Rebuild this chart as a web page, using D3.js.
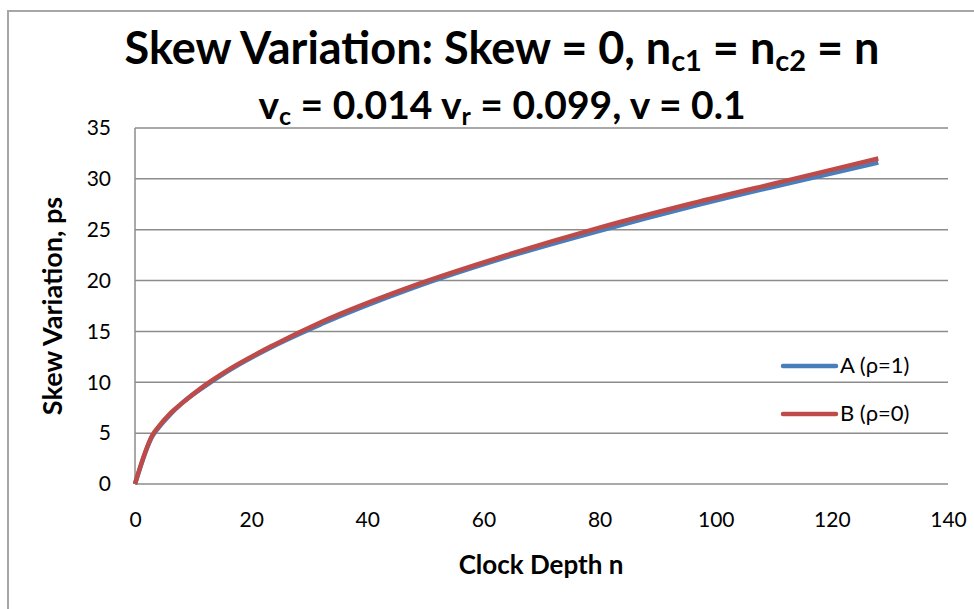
<!DOCTYPE html>
<html>
<head>
<meta charset="utf-8">
<script src="https://cdn.jsdelivr.net/npm/d3@7"></script>
<style>
  body { margin: 0; background: #fff; }
  text { font-family: Lato, "Open Sans", sans-serif; fill: #000; }
</style>
</head>
<body>
<div id="chart"></div>
<script>
// clock depth values (x) and skew variation in ps for each series
var depth = [0, 3, 4, 6, 8, 12, 16, 24, 32, 48, 64, 80, 96, 112, 128];
var seriesA = [0, 4.7, 5.5, 6.8, 7.9, 9.6, 11.1, 13.6, 15.7, 19.3, 22.3, 24.9, 27.3, 29.5, 31.6];
var seriesB = [0, 4.8, 5.6, 6.9, 7.9, 9.7, 11.2, 13.7, 15.9, 19.5, 22.5, 25.2, 27.6, 29.8, 32.0];
var seriesNames = ["A (\u03c1=1)", "B (\u03c1=0)"];
var seriesColors = ["#4a7ebb", "#be4b48"];
var xTicks = [0, 20, 40, 60, 80, 100, 120, 140];
var yTicks = [0, 5, 10, 15, 20, 25, 30, 35];

var width = 974, height = 609;

var svg = d3.select("#chart")
	.append("svg")
	.attr("width", width)
	.attr("height", height);

// outer chart frame (only top and left edges visible)
svg.append("rect")
	.attr("x", 8).attr("y", 11)
	.attr("width", 1000).attr("height", 700)
	.attr("fill", "#fff")
	.attr("stroke", "#a6a6a6")
	.attr("stroke-width", 2);

var x = d3.scaleLinear().domain([0, 140]).range([135, 948]);
var y = d3.scaleLinear().domain([0, 35]).range([484, 128]);

// horizontal gridlines
svg.append("g")
	.selectAll("line")
	.data(yTicks)
	.enter().append("line")
	.attr("x1", x(0)).attr("x2", x(140))
	.attr("y1", function(d) { return y(d); })
	.attr("y2", function(d) { return y(d); })
	.attr("stroke", "#8c8c8c")
	.attr("stroke-width", 1.5);

// left axis line
svg.append("line")
	.attr("x1", x(0)).attr("x2", x(0))
	.attr("y1", y(0)).attr("y2", y(35))
	.attr("stroke", "#8c8c8c")
	.attr("stroke-width", 1.5);

// tick labels
var yAxis = d3.axisLeft(y).tickValues(yTicks).tickSize(0).tickPadding(24);
var gy = svg.append("g").attr("transform", "translate(" + x(0) + ",0)").call(yAxis);
gy.select(".domain").remove();
gy.selectAll("text").style("font-size", "21px").attr("fill", "#000");

var xAxis = d3.axisBottom(x).tickValues(xTicks).tickSize(0).tickPadding(28);
var gx = svg.append("g").attr("transform", "translate(0," + y(0) + ")").call(xAxis);
gx.select(".domain").remove();
gx.selectAll("text").style("font-size", "21px").attr("fill", "#000");

// curves
var line = d3.line()
	.x(function(d) { return x(d[0]); })
	.y(function(d) { return y(d[1]); })
	.curve(d3.curveMonotoneX);

[seriesA, seriesB].forEach(function(s, i) {
	svg.append("path")
		.datum(depth.map(function(n, j) { return [n, s[j]]; }))
		.attr("d", line)
		.attr("fill", "none")
		.attr("stroke", seriesColors[i])
		.attr("stroke-width", 4.5)
		.attr("stroke-linejoin", "round");
});

// legend
seriesNames.forEach(function(name, i) {
	var ly = 366 + i * 48;
	svg.append("line")
		.attr("x1", 783).attr("x2", 836)
		.attr("y1", ly).attr("y2", ly)
		.attr("stroke", seriesColors[i])
		.attr("stroke-width", 4.5)
		.attr("stroke-linecap", "round");
	svg.append("text")
		.attr("x", 840).attr("y", ly + 7)
		.style("font-size", "22px")
		.attr("fill", "#000")
		.text(name);
});

// title with subscripts
var title = svg.append("text")
	.attr("x", 502).attr("y", 64)
	.attr("text-anchor", "middle")
	.style("font-size", "45px")
	.style("font-weight", "bold");
title.append("tspan").text("Skew Variation: Skew = 0, n");
title.append("tspan").attr("baseline-shift", "-25%").style("font-size", "29px").text("c1");
title.append("tspan").text(" = n");
title.append("tspan").attr("baseline-shift", "-25%").style("font-size", "29px").text("c2");
title.append("tspan").text(" = n");

var sub = svg.append("text")
	.attr("x", 502).attr("y", 119)
	.attr("text-anchor", "middle")
	.style("font-size", "39px")
	.style("font-weight", "bold");
sub.append("tspan").text("v");
sub.append("tspan").attr("baseline-shift", "-25%").style("font-size", "25px").text("c");
sub.append("tspan").text(" = 0.014 v");
sub.append("tspan").attr("baseline-shift", "-25%").style("font-size", "25px").text("r");
sub.append("tspan").text(" = 0.099, v = 0.1");

// axis titles
svg.append("text")
	.attr("x", 541).attr("y", 574)
	.attr("text-anchor", "middle")
	.style("font-size", "26px")
	.style("font-weight", "bold")
	.text("Clock Depth n");

svg.append("text")
	.attr("transform", "translate(62,306) rotate(-90)")
	.attr("text-anchor", "middle")
	.style("font-size", "27px")
	.style("font-weight", "bold")
	.text("Skew Variation, ps");
</script>
</body>
</html>
